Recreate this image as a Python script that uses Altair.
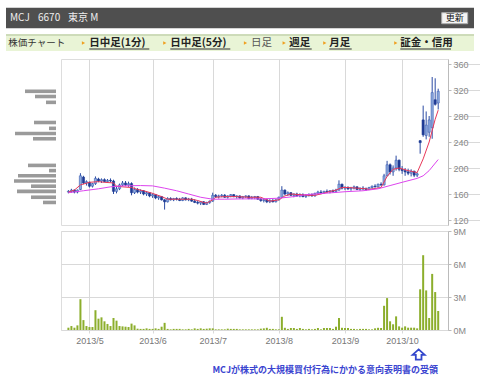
import altair as alt
import pandas as pd

# ---------------- data (trading-day index 0 = 2013/4/19 ... 123 = 2013/10/18) ----------------
opens = [163,164,166,163,167,186,177,178,172,176,
         183,180,182,179,181,180,164,168,174,177,
         174,176,162,167,163,165,160,162,157,159,
         154,156,151,148,153,151,153,152,150,154,
         151,152,149,147,146,148,144,147,149,158,
         156,157,158,155,157,159,156,157,154,156,
         157,153,155,156,152,150,151,148,150,148,
         151,155,166,160,162,158,160,157,159,156,
         158,159,157,161,163,162,164,163,165,164,
         166,175,169,170,168,169,171,167,169,168,
         167,170,172,171,175,174,188,205,194,200,
         212,198,196,194,192,195,189,242,274,250,
         255,262,305,300]
highs = [166,168,167,167,192,188,181,179,177,187,
         185,184,184,183,184,182,172,176,180,180,
         179,178,170,169,167,166,164,163,161,160,
         158,157,152,155,155,154,155,154,155,155,
         154,154,152,150,149,149,148,150,162,160,
         159,160,160,158,160,160,158,158,157,158,
         158,157,157,157,154,153,153,152,153,152,
         156,172,167,164,163,161,162,161,161,160,
         161,161,162,165,166,165,167,166,167,168,
         181,176,172,172,171,173,172,170,172,170,
         171,173,175,176,178,191,211,207,204,219,
         213,203,200,199,198,196,193,243,296,287,
         280,340,338,322]
lows = [161,162,161,161,166,175,173,170,170,174,
        178,177,178,177,178,160,161,166,172,172,
        171,158,160,161,160,158,157,155,154,152,
        151,150,136,147,150,149,150,149,149,150,
        149,148,146,144,143,143,143,145,148,154,
        153,155,154,153,155,155,153,153,152,154,
        152,152,152,151,148,147,146,146,147,147,
        150,154,158,157,157,155,156,155,155,154,
        156,156,156,159,160,160,162,161,162,162,
        165,167,166,166,165,167,166,165,166,165,
        166,168,170,170,172,173,187,190,188,196,
        195,191,188,189,187,186,186,222,248,244,
        248,245,296,290]
closes = [164,166,163,166,188,177,179,172,176,184,
          180,182,179,181,180,164,168,174,177,174,
          176,162,167,163,165,160,162,157,159,154,
          156,151,148,153,151,153,152,150,154,151,
          152,149,147,146,148,144,147,149,158,156,
          157,158,155,157,159,156,157,154,156,157,
          153,155,156,152,150,151,148,150,148,151,
          155,166,160,162,158,160,157,159,156,158,
          159,157,161,163,162,164,163,165,164,166,
          175,169,170,168,169,171,167,169,168,167,
          170,172,171,175,174,188,205,194,200,212,
          198,196,194,192,195,189,191,239,251,266,
          274,316,298,318]
volumes = [0.21,0.36,0.21,0.42,2.8,0.9,0.36,0.27,0.27,1.8,
           1.03,1.15,0.79,0.55,0.36,1.09,0.85,0.36,0.33,0.3,
           0.27,0.58,0.42,0.12,0.1,0.1,0.15,0.1,0.1,0.15,
           0.1,0.3,0.65,0.1,0.06,0.1,0.1,0.1,0.06,0.06,
           0.1,0.06,0.15,0.1,0.15,0.1,0.12,0.15,0.15,0.06,
           0.06,0.06,0.06,0.12,0.1,0.1,0.1,0.06,0.06,0.06,
           0.06,0.06,0.06,0.06,0.12,0.15,0.2,0.1,0.1,0.06,
           0.06,1.2,0.2,0.1,0.18,0.18,0.1,0.18,0.1,0.06,
           0.1,0.06,0.1,0.18,0.06,0.18,0.18,0.18,0.1,0.3,
           1.09,0.2,0.18,0.18,0.1,0.1,0.06,0.1,0.1,0.1,
           0.06,0.06,0.15,0.2,0.18,2.2,2.9,0.79,0.52,1.24,
           0.33,0.21,0.33,0.21,0.21,0.21,0.15,3.7,6.8,3.6,
           1.09,5.1,3.45,1.73]

ma_short_idx = [0,2,4,7,10,12,15,16,18,21,23,25,28,31,33,36,39,41,43,45,46,48,49,52,56,60,64,67,
                70,72,74,77,80,82,84,87,89,91,93,96,99,100,104,106,108,110,113,116,118,120,122,123]
ma_short_val = [163,166,174,178,179,178,177,172,171,170,167,165,161,156,152,152,152,152,150,147,146,151,155,156,156,155,155,149,
                151,157,160,159,158,158,160,164,166,170,170,169,168,167,170,187,198,200,196,193,214,240,275,289]
ma_long_idx = [0,5,10,14,18,24,28,32,36,40,44,48,52,58,64,70,75,79,85,92,98,103,107,111,116,118,120,123]
ma_long_val = [162,165,168,171,172.5,173,172.5,169,165,160,155,152,152,152.5,152.5,153.5,156,159,161,163.5,165,168,173,178,184,188,196,213]

band_price = [318,310,301,270,261,253,245,204,196,188,180,172,164,155,147]
band_volume = [31,21,10,22,7,41,23,28,7,38,42,25,39,25,13]

tick_idx = [7,28,48,70,92,111]
tick_labels = ["2013/5","2013/6","2013/7","2013/8","2013/9","2013/10"]
price_ticks = [120,160,200,240,280,320,360]
vol_ticks = [0,3,6,9]

event_idx = 116
event_text = "MCJが株式の大規模買付行為にかかる意向表明書の受領"

# ---------------- styling ----------------
W, HP, HV = 387, 166, 99
JP = "Noto Sans CJK JP"
AX = "Liberation Sans"
GRID = "#d9d9d9"

N = len(opens)
ohlc = pd.DataFrame({"i": list(range(N)), "o": opens, "h": highs, "l": lows, "c": closes})
vol = pd.DataFrame({"i": list(range(N)), "v": volumes})
ma_s = pd.DataFrame({"i": ma_short_idx, "v": ma_short_val})
ma_l = pd.DataFrame({"i": ma_long_idx, "v": ma_long_val})
band = pd.DataFrame({"p": band_price, "v": band_volume})

x_scale = alt.Scale(domain=[-0.8, 124.6], nice=False, zero=False)
p_scale = alt.Scale(domain=[120, 360], nice=False, zero=False)
v_scale = alt.Scale(domain=[0, 9], nice=False, zero=True)

label_expr = " : ".join(f"datum.value == {i} ? '{l}'" for i, l in zip(tick_idx, tick_labels)) + " : ''"

x_axis_grid = alt.Axis(values=tick_idx, grid=True, gridColor=GRID, labels=False, ticks=False,
                       domain=False, title=None)
x_axis_lab = alt.Axis(values=tick_idx, grid=True, gridColor=GRID, labelExpr=label_expr, ticks=True,
                      tickColor=GRID, tickSize=3, domain=False, title=None, labelFont=AX,
                      labelFontSize=9, labelColor="#777777", labelPadding=3)
p_axis = alt.Axis(orient="right", values=price_ticks, grid=True, gridColor=GRID, title=None,
                  domainColor="#bbbbbb", tickColor="#bbbbbb", tickSize=3, labelFont=AX,
                  labelFontSize=9, labelColor="#888888", labelPadding=2)
v_axis = alt.Axis(orient="right", values=vol_ticks, grid=True, gridColor=GRID, title=None,
                  labelExpr="datum.value + 'M'", domainColor="#bbbbbb", tickColor="#bbbbbb",
                  tickSize=3, labelFont=AX, labelFontSize=9, labelColor="#888888", labelPadding=2)

X = alt.X("i:Q", scale=x_scale, axis=x_axis_grid)

wick = alt.Chart(ohlc).mark_rule(color="#2b4ba3", strokeWidth=1).encode(
    x=X, y=alt.Y("l:Q", scale=p_scale, axis=p_axis), y2="h:Q")
body = alt.Chart(ohlc).mark_bar(size=2.2, strokeWidth=0.6).encode(
    x=X, y=alt.Y("o:Q", scale=p_scale, axis=p_axis), y2="c:Q",
    fill=alt.condition("datum.c >= datum.o", alt.value("#8eaadd"), alt.value("#1e3a94")),
    stroke=alt.condition("datum.c >= datum.o", alt.value("#3d5fb5"), alt.value("#1e3a94")))
red = alt.Chart(ma_s).mark_line(color="#e8385a", strokeWidth=1).encode(
    x=X, y=alt.Y("v:Q", scale=p_scale, axis=p_axis))
mag = alt.Chart(ma_l).mark_line(color="#dd44ee", strokeWidth=1).encode(
    x=X, y=alt.Y("v:Q", scale=p_scale, axis=p_axis))

one = alt.Data(values=[{}])


def rect(x1, y1, x2, y2, **kw):
    return alt.Chart(one).mark_rect(**kw).encode(
        x=alt.value(x1), x2=alt.value(x2), y=alt.value(y1), y2=alt.value(y2))


def text(x, y, s, **kw):
    return alt.Chart(one).mark_text(**kw).encode(
        x=alt.value(x), y=alt.value(y), text=alt.value(s))


decor = [
    rect(-55, -51.3, 413, -30.7, color="#4f4f4f"),
    text(-51, -41, "MCJ", font=JP, fontSize=10, color="#eeeeee", align="left", baseline="middle"),
    text(-23, -41, "6670", font=JP, fontSize=10, color="#eeeeee", align="left", baseline="middle"),
    text(7, -41, "東京 M", font=JP, fontSize=10, color="#eeeeee", align="left", baseline="middle"),
    rect(380.7, -46.3, 406.7, -35.3, fill="#f4f4f4", stroke="#aaaaaa", strokeWidth=1),
    text(393.7, -40.6, "更新", font=JP, fontSize=9, color="#111111", align="center", baseline="middle"),
    rect(-55, -24.7, 413, -8, color="#e9f4d6"),
    rect(-55, -24.7, 413, -23.3, color="#c3d3ae"),
    text(-52.7, -16, "株価チャート", font=JP, fontSize=9.5, color="#333333", align="left", baseline="middle"),
]
nav = [("日中足(1分)", 28.3, True), ("日中足(5分)", 109.3, True), ("日足", 190, False),
       ("週足", 228.3, True), ("月足", 268.3, True), ("証金・信用", 339.3, True)]
tri_x = [22.5, 103.8, 184.5, 223.2, 263.8, 334.8]
for (lab, x0, link), tx in zip(nav, tri_x):
    decor.append(alt.Chart(one).mark_point(shape="triangle-right", filled=True, size=14,
                                           color="#f0a020", opacity=1).encode(
        x=alt.value(tx), y=alt.value(-16)))
    decor.append(text(x0, -16, lab, font=JP, fontSize=10.5,
                      fontWeight="bold" if link else "normal",
                      color="#222222" if link else "#555555", align="left", baseline="middle"))
nav_ends = [88.3, 169.3, None, 250.7, 290.7, 390]
for (lab, x0, link), xe in zip(nav, nav_ends):
    if link:
        decor.append(rect(x0, -10.5, xe, -9.5, color="#333333"))

hist = alt.Chart(band).mark_bar(orient="horizontal", size=3.6, color="#9a9a9a").encode(
    x=alt.X("v:Q", scale=alt.Scale(domain=[0, 45], range=[-5, -50]), axis=None),
    y=alt.Y("p:Q", scale=p_scale, axis=p_axis))

price = alt.layer(hist, alt.layer(wick, body, red, mag, *decor)).resolve_scale(
    x="independent").properties(width=W, height=HP)

XV = alt.X("i:Q", scale=x_scale, axis=x_axis_lab)
vbars = alt.Chart(vol).mark_bar(orient="vertical", size=2, color="#8cae2c").encode(
    x=XV, y=alt.Y("v:Q", scale=v_scale, axis=v_axis))
ev = pd.DataFrame({"i": [event_idx], "t": [event_text]})
arrow = alt.Chart(ev).mark_point(
    shape="M0,-0.8 L0.95,0.05 L0.45,0.05 L0.45,0.8 L-0.45,0.8 L-0.45,0.05 L-0.95,0.05 Z",
    filled=False, size=160, stroke="#3347cc", strokeWidth=1.8, fill="#ffffff", xOffset=1.5,
    opacity=1).encode(x=XV, y=alt.value(123.5))
ev_text = alt.Chart(ev).mark_text(font=JP, fontSize=9, fontWeight="bold", color="#3a44d0",
                                  align="right", baseline="middle").encode(
    x=alt.value(377), y=alt.value(138.5), text="t:N")
volume = alt.layer(vbars, arrow, ev_text).properties(width=W, height=HV)

chart = alt.vconcat(price, volume, spacing=6, bounds="flush").properties(
    padding={"left": 5, "top": 7, "right": 5, "bottom": 5}
).configure_view(stroke="#cccccc").configure(background="white")

chart.save("out.html", embed_options={"renderer": "svg", "actions": False})
